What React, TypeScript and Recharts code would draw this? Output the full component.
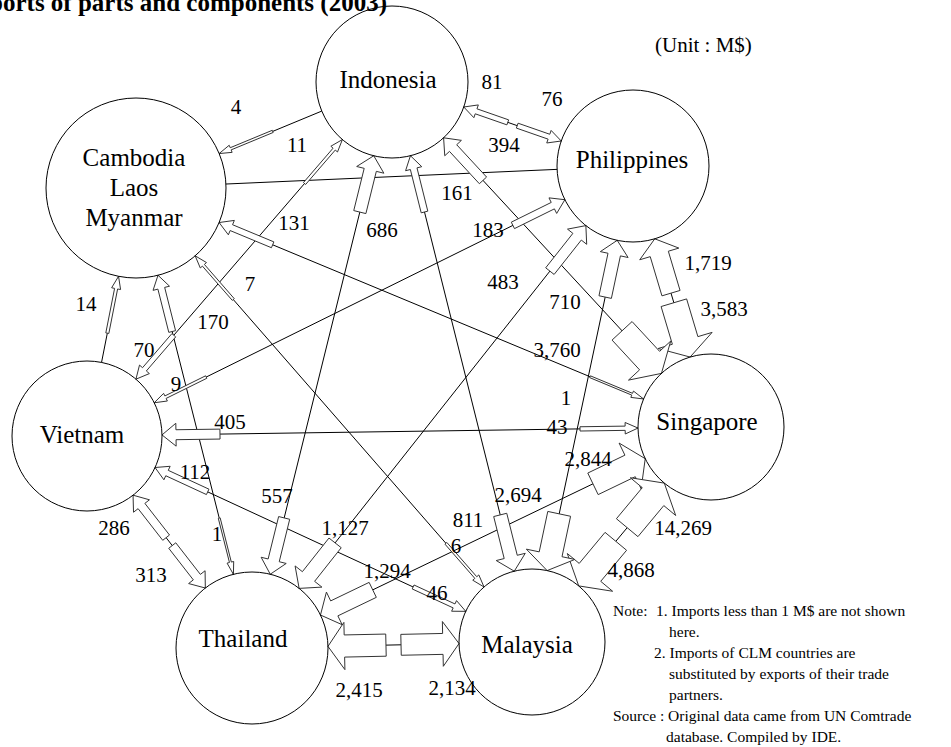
import React from 'react';
import { ScatterChart, Scatter, XAxis, YAxis, ReferenceLine } from 'recharts';

const W = 951;
const H = 747;
const FONT = "'Liberation Serif', 'Times New Roman', Times, serif";

// countries (CLM = Cambodia, Laos, Myanmar)
const countries = ['IDN', 'PHL', 'SGP', 'MYS', 'THA', 'VNM', 'CLM'];
const countryLabels = [
  ['Indonesia'],
  ['Philippines'],
  ['Singapore'],
  ['Malaysia'],
  ['Thailand'],
  ['Vietnam'],
  ['Cambodia', 'Laos', 'Myanmar'],
];

// imports of parts and components 2003, M$ : importer <- exporter
const importer = [
  'IDN', 'IDN', 'IDN', 'IDN', 'IDN',
  'PHL', 'PHL', 'PHL', 'PHL', 'PHL',
  'SGP', 'SGP', 'SGP', 'SGP', 'SGP', 'SGP',
  'MYS', 'MYS', 'MYS', 'MYS', 'MYS', 'MYS',
  'THA', 'THA', 'THA', 'THA', 'THA', 'THA',
  'VNM', 'VNM', 'VNM', 'VNM', 'VNM',
  'CLM', 'CLM', 'CLM', 'CLM', 'CLM',
];
const exporter = [
  'PHL', 'VNM', 'THA', 'MYS', 'SGP',
  'IDN', 'VNM', 'THA', 'MYS', 'SGP',
  'PHL', 'IDN', 'CLM', 'VNM', 'THA', 'MYS',
  'SGP', 'THA', 'IDN', 'PHL', 'CLM', 'VNM',
  'MYS', 'VNM', 'CLM', 'IDN', 'PHL', 'SGP',
  'THA', 'IDN', 'PHL', 'SGP', 'MYS',
  'IDN', 'VNM', 'THA', 'MYS', 'SGP',
];
const importValue = [
  81, 11, 686, 161, 394,
  76, 183, 483, 710, 1719,
  3583, 3760, 1, 43, 2844, 14269,
  4868, 2134, 811, 2694, 6, 46,
  2415, 313, 1, 557, 1127, 1294,
  286, 70, 9, 405, 112,
  4, 14, 170, 7, 131,
];

// pairs whose imports are below 1 M$ both ways (line only)
const lineOnlyPairs = [['PHL', 'CLM']];

// ---- layout (chart units = px) ----
const nodeX = [392, 633, 711, 532, 252, 87, 136];
const nodeY = [82, 166, 427, 642, 648, 436, 188];
const nodeR = [76, 76, 73, 73, 76, 75, 90];
const nameDx = [-4, -1, -4, -5, -9, -5, -2];
const nameDy = [6, 2, 3, 11, -1, 7, 8];

const labelX = [
  492, 297, 382, 457, 504,
  552, 488, 503, 565, 708,
  724, 557, 566, 557, 588, 683,
  631, 452, 468, 518, 456, 437,
  359, 151, 217, 277, 345, 387,
  114, 144, 176, 230, 195,
  236, 86, 213, 250, 294,
];
const labelY = [
  82, 145, 230, 193, 145,
  99, 230, 282, 302, 263,
  309, 350, 398, 427, 459, 528,
  570, 688, 520, 495, 546, 593,
  690, 575, 534, 496, 528, 571,
  528, 350, 384, 422, 472,
  107, 304, 322, 284, 223,
];

const idx = (c: string) => countries.indexOf(c);

const flows = importValue.map((v, i) => ({ to: idx(importer[i]), from: idx(exporter[i]), value: v }));

const pairs: [number, number][] = [];
const addPair = (a: number, b: number) => {
  const lo = Math.min(a, b);
  const hi = Math.max(a, b);
  if (!pairs.some((p) => p[0] === lo && p[1] === hi)) pairs.push([lo, hi]);
};
flows.forEach((f) => addPair(f.from, f.to));
lineOnlyPairs.forEach(([a, b]) => addPair(idx(a), idx(b)));

const hasReverse = (from: number, to: number) => flows.some((g) => g.from === to && g.to === from);

const nodeData = countries.map((c, i) => ({ x: nodeX[i], y: nodeY[i], idx: i }));
const labelData = importValue.map((v, i) => ({ x: labelX[i], y: labelY[i], text: v.toLocaleString('en-US') }));

// arrow shaft width from import value
const shaftWidth = (v: number) => Math.min(28, 1.5 + 0.42 * Math.sqrt(v));

const geom = (p: any, a: number, b: number) => {
  const { x1, y1, x2, y2 } = p;
  const dx = x2 - x1;
  const dy = y2 - y1;
  const d = Math.hypot(dx, dy);
  const k = d / Math.hypot(nodeX[b] - nodeX[a], nodeY[b] - nodeY[a]);
  return { x1, y1, x2, y2, ux: dx / d, uy: dy / d, d, k };
};

const renderLink = (p: any, a: number, b: number) => {
  const g = geom(p, a, b);
  const ra = nodeR[a] * g.k;
  const rb = nodeR[b] * g.k;
  return (
    <line
      x1={g.x1 + g.ux * ra}
      y1={g.y1 + g.uy * ra}
      x2={g.x2 - g.ux * rb}
      y2={g.y2 - g.uy * rb}
      stroke="#000"
      strokeWidth={1}
    />
  );
};

const renderArrow = (p: any, from: number, to: number, value: number) => {
  const g = geom(p, from, to);
  const ra = nodeR[from] * g.k;
  const rb = nodeR[to] * g.k;
  const gap = g.d - ra - rb;
  const L = hasReverse(from, to) ? Math.min(58, (gap - 10) / 2) : 58;
  const w = shaftWidth(value);
  const hw = 2 * w + 3;
  const hl = Math.min(12 + 0.2 * w, L * 0.45);
  const tipX = g.x2 - g.ux * rb;
  const tipY = g.y2 - g.uy * rb;
  const nx = -g.uy;
  const ny = g.ux;
  const pt = (s: number, t: number) =>
    `${(tipX - g.ux * (L - s) + nx * t).toFixed(2)},${(tipY - g.uy * (L - s) + ny * t).toFixed(2)}`;
  const pts = [
    pt(0, -w / 2),
    pt(L - hl, -w / 2),
    pt(L - hl, -hw / 2),
    pt(L, 0),
    pt(L - hl, hw / 2),
    pt(L - hl, w / 2),
    pt(0, w / 2),
  ].join(' ');
  return <polygon points={pts} fill="#fff" stroke="#333" strokeWidth={1} strokeLinejoin="miter" />;
};

const NodeShape = (p: any) => {
  const i = p.payload.idx;
  const lines = countryLabels[i];
  const tx = p.cx + nameDx[i];
  const base = p.cy + nameDy[i];
  return (
    <g>
      <circle cx={p.cx} cy={p.cy} r={nodeR[i]} fill="none" stroke="#000" strokeWidth={1} />
      {lines.map((t, j) => (
        <text
          key={t}
          x={tx}
          y={base + (j - (lines.length - 1) / 2) * 30}
          textAnchor="middle"
          fontFamily={FONT}
          fontSize={25}
          fill="#000"
        >
          {t}
        </text>
      ))}
    </g>
  );
};

const ValueLabel = (p: any) => (
  <text
    x={p.cx}
    y={p.cy}
    textAnchor="middle"
    dominantBaseline="central"
    fontFamily={FONT}
    fontSize={21}
    fill="#000"
  >
    {p.payload.text}
  </text>
);

const noteLines = [
  { x: 613, y: 616, t: 'Note:' },
  { x: 656, y: 616, t: '1. Imports less than 1 M$ are not shown' },
  { x: 669, y: 637, t: 'here.' },
  { x: 654, y: 658, t: '2. Imports of CLM countries are' },
  { x: 669, y: 679, t: 'substituted  by exports of their trade' },
  { x: 669, y: 700, t: 'partners.' },
  { x: 613, y: 721, t: 'Source : Original data came from UN Comtrade' },
  { x: 666, y: 742, t: 'database. Compiled by IDE.' },
];

export default function App() {
  return (
    <div style={{ position: 'absolute', left: 0, top: 0, width: W, height: H, background: '#fff' }}>
      <ScatterChart width={W} height={H} margin={{ top: 0, right: 0, bottom: 0, left: 0 }}>
        <XAxis type="number" dataKey="x" domain={[0, W]} allowDataOverflow hide />
        <YAxis type="number" dataKey="y" domain={[0, H]} allowDataOverflow reversed hide />

        {pairs.map(([a, b]) => (
          <ReferenceLine
            key={`l-${a}-${b}`}
            segment={[
              { x: nodeX[a], y: nodeY[a] },
              { x: nodeX[b], y: nodeY[b] },
            ]}
            ifOverflow="visible"
            shape={(p: any) => renderLink(p, a, b)}
          />
        ))}

        {flows.map((f, i) => (
          <ReferenceLine
            key={`a-${i}`}
            segment={[
              { x: nodeX[f.from], y: nodeY[f.from] },
              { x: nodeX[f.to], y: nodeY[f.to] },
            ]}
            ifOverflow="visible"
            shape={(p: any) => renderArrow(p, f.from, f.to, f.value)}
          />
        ))}

        <Scatter data={nodeData} shape={NodeShape} isAnimationActive={false} />
        <Scatter data={labelData} shape={ValueLabel} isAnimationActive={false} />

        <text x={387} y={11} textAnchor="end" fontFamily={FONT} fontSize={25} fontWeight="bold" fill="#000">
          Imports of parts and components (2003)
        </text>
        <text x={655} y={52} fontFamily={FONT} fontSize={21} fill="#000">
          (Unit : M$)
        </text>
        {noteLines.map((n) => (
          <text key={n.t} x={n.x} y={n.y} fontFamily={FONT} fontSize={15.5} fill="#000">
            {n.t}
          </text>
        ))}
      </ScatterChart>
    </div>
  );
}
